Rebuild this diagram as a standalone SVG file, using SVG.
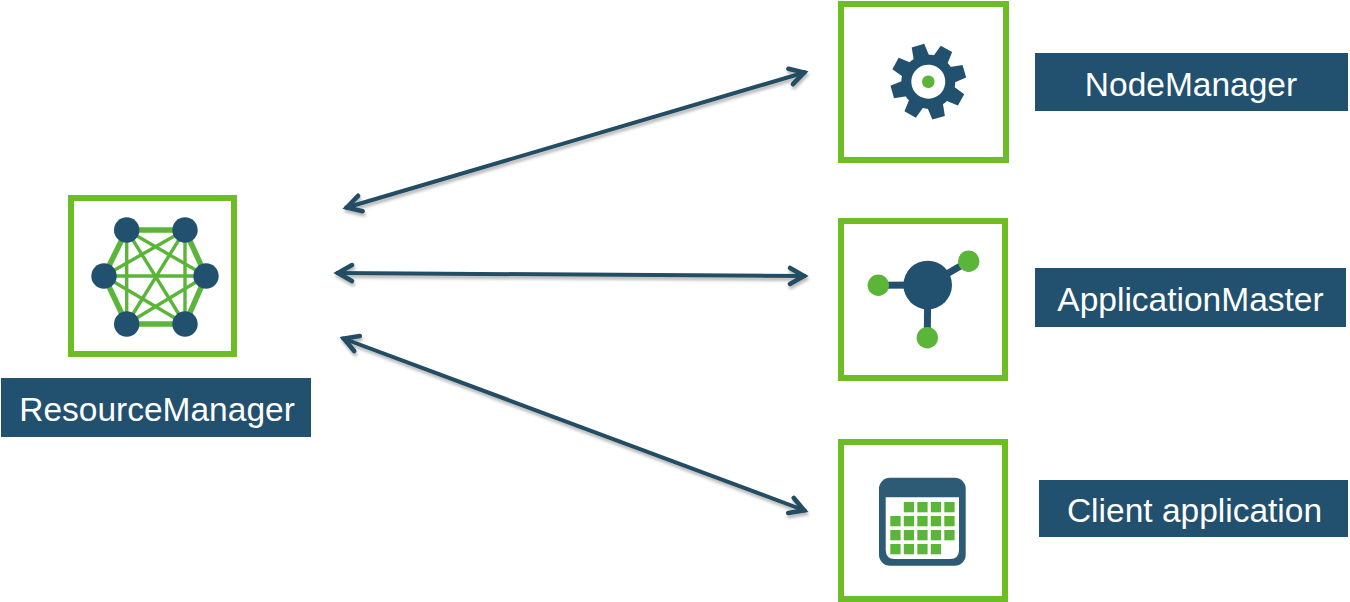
<svg xmlns="http://www.w3.org/2000/svg" width="1350" height="602" viewBox="0 0 1350 602">
  <style>
    .frame { fill: #fff; stroke: #6cbd26; stroke-width: 6; }
    .label { fill: #22506f; }
    .label-text { fill: #fff; font-family: "Liberation Sans", Arial, sans-serif; font-size: 33.500px; text-anchor: middle; }
    .navy { fill: #22506f; }
    .green { fill: #5ab539; }
    .mesh { stroke: #5ab539; stroke-width: 3.400; fill: none; }
    .rim { stroke: #5ab539; stroke-width: 5.500; fill: none; }
    .spoke { stroke: #22506f; stroke-width: 7; }
    .link { stroke: #234d62; stroke-width: 4; fill: none; marker-start: url(#head); marker-end: url(#head); }
  </style>
  <defs>
    <marker id="head" markerUnits="userSpaceOnUse" markerWidth="28" markerHeight="28" refX="23" refY="14" orient="auto-start-reverse">
      <path d="M7 6 L21 14 L7 22" fill="none" stroke="#234d62" stroke-width="4.600" stroke-linecap="round" stroke-linejoin="miter"/>
    </marker>
    <filter id="soft" x="-5%" y="-20%" width="110%" height="140%">
      <feDropShadow dx="1" dy="3" stdDeviation="1.600" flood-color="#000" flood-opacity="0.280"/>
    </filter>
    <path id="tooth" d="M-8 -25L-6.500 -37.500H6.500L8 -25Z"/>
  </defs>

  <g id="connectors" filter="url(#soft)">
    <line class="link" x1="345" y1="208" x2="806" y2="72"/>
    <line class="link" x1="336" y1="273" x2="806" y2="276"/>
    <line class="link" x1="342" y1="338" x2="806" y2="511"/>
  </g>

  <g id="resource-manager">
    <rect class="frame" x="71" y="198" width="163" height="156"/>
    <path class="rim" d="M126.700 230H185L206 276L185 324H126.700L104 276Z"/>
    <path class="mesh" d="M126.700 230V324M185 230V324M104 276H206M126.700 230L185 324M185 230L126.700 324M126.700 230L206 276M185 230L104 276M104 276L185 324M206 276L126.700 324"/>
    <g class="navy">
      <circle cx="126.700" cy="230" r="12.700"/>
      <circle cx="185" cy="230" r="12.700"/>
      <circle cx="104" cy="276" r="12.700"/>
      <circle cx="206" cy="276" r="12.700"/>
      <circle cx="126.700" cy="324" r="12.700"/>
      <circle cx="185" cy="324" r="12.700"/>
    </g>
    <rect class="label" x="1" y="378" width="310" height="59"/>
    <text class="label-text" x="157" y="420.500">ResourceManager</text>
  </g>

  <g id="node-manager">
    <rect class="frame" x="841" y="4" width="165" height="156"/>
    <g transform="translate(928.300 81.700) rotate(-16)">
      <g class="navy">
        <circle r="27"/>
        <use href="#tooth"/>
        <use href="#tooth" transform="rotate(45)"/>
        <use href="#tooth" transform="rotate(90)"/>
        <use href="#tooth" transform="rotate(135)"/>
        <use href="#tooth" transform="rotate(180)"/>
        <use href="#tooth" transform="rotate(225)"/>
        <use href="#tooth" transform="rotate(270)"/>
        <use href="#tooth" transform="rotate(315)"/>
      </g>
      <circle r="17" fill="#fff"/>
      <circle class="green" r="6.300"/>
    </g>
    <rect class="label" x="1035" y="53" width="313" height="58"/>
    <text class="label-text" x="1191" y="95.500">NodeManager</text>
  </g>

  <g id="application-master">
    <rect class="frame" x="841" y="221" width="164" height="157"/>
    <line class="spoke" x1="878.300" y1="285.300" x2="927.700" y2="285"/>
    <line class="spoke" x1="968.700" y1="261.300" x2="927.700" y2="285"/>
    <line class="spoke" x1="927.300" y1="337.700" x2="927.700" y2="285"/>
    <circle class="navy" cx="927.700" cy="285" r="24.300"/>
    <circle class="green" cx="878.300" cy="285.300" r="10.700"/>
    <circle class="green" cx="968.700" cy="261.300" r="10.700"/>
    <circle class="green" cx="927.300" cy="337.700" r="10.700"/>
    <rect class="label" x="1035" y="268" width="311" height="59"/>
    <text class="label-text" x="1190.500" y="310.500">ApplicationMaster</text>
  </g>

  <g id="client-application">
    <rect class="frame" x="841" y="442" width="164" height="157"/>
    <rect x="879" y="477.700" width="86.700" height="88" rx="11" fill="#2d5a75"/>
    <path fill="#fff" d="M885.700 497.300H959V550Q959 559 950 559H894.700Q885.700 559 885.700 550Z"/>
    <g class="green">
      <rect x="903.800" y="502" width="10.300" height="10.300"/>
      <rect x="917.300" y="502" width="10.300" height="10.300"/>
      <rect x="930.800" y="502" width="10.300" height="10.300"/>
      <rect x="944.300" y="502" width="10.300" height="10.300"/>
      <rect x="890.300" y="516" width="10.300" height="10.300"/>
      <rect x="903.800" y="516" width="10.300" height="10.300"/>
      <rect x="917.300" y="516" width="10.300" height="10.300"/>
      <rect x="930.800" y="516" width="10.300" height="10.300"/>
      <rect x="944.300" y="516" width="10.300" height="10.300"/>
      <rect x="890.300" y="530" width="10.300" height="10.300"/>
      <rect x="903.800" y="530" width="10.300" height="10.300"/>
      <rect x="917.300" y="530" width="10.300" height="10.300"/>
      <rect x="930.800" y="530" width="10.300" height="10.300"/>
      <rect x="944.300" y="530" width="10.300" height="10.300"/>
      <rect x="890.300" y="544" width="10.300" height="10.300"/>
      <rect x="903.800" y="544" width="10.300" height="10.300"/>
      <rect x="917.300" y="544" width="10.300" height="10.300"/>
      <rect x="930.800" y="544" width="10.300" height="10.300"/>
    </g>
    <rect class="label" x="1039" y="480" width="309" height="57"/>
    <text class="label-text" x="1194.500" y="521.500">Client application</text>
  </g>
</svg>
